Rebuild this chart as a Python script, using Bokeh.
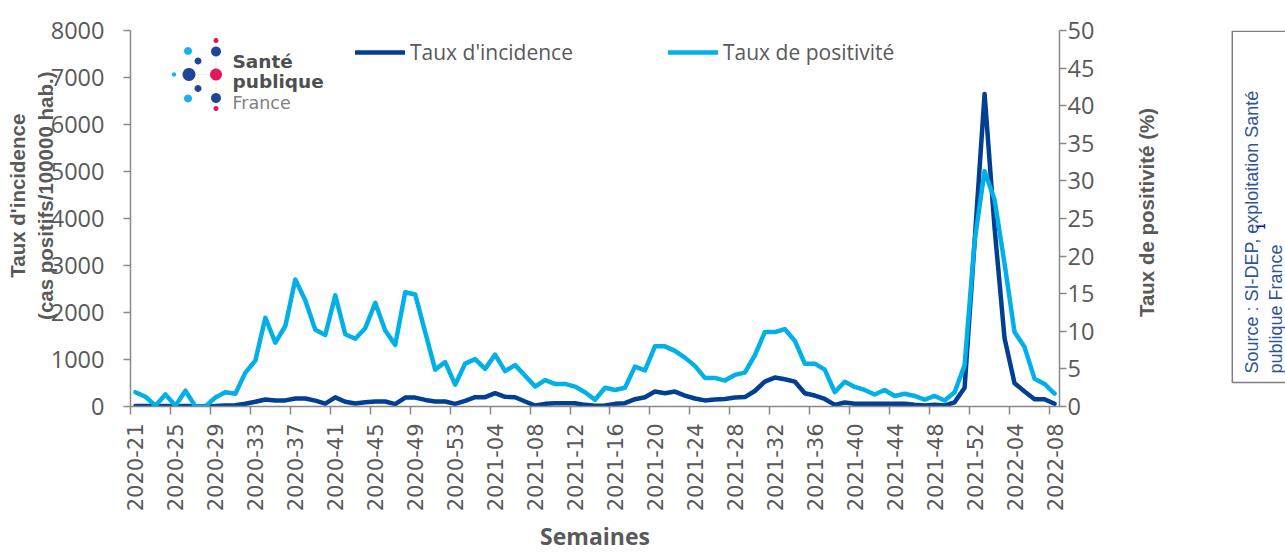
import math
from bokeh.plotting import figure
from bokeh.layouts import row
from bokeh.models import (ColumnDataSource, Range1d, LinearAxis, FixedTicker, Label,
                          Legend, LegendItem, PolyAnnotation)
from bokeh.core.properties import value
from bokeh.embed import file_html
from bokeh.resources import INLINE

# ---------------- data ----------------
weeks = ([f"2020-{w:02d}" for w in range(21, 54)]
         + [f"2021-{w:02d}" for w in range(1, 53)]
         + [f"2022-{w:02d}" for w in range(1, 9)])

incidence = [10, 10, 5, 10, 5, 10, 5, 5, 10, 20,
             25, 60, 100, 150, 130, 130, 170, 170, 125, 60,
             195, 100, 65, 90, 106, 106, 50, 190, 190, 140,
             106, 106, 56, 120, 198, 198, 283, 205, 198, 106,
             21, 56, 71, 71, 71, 35, 14, 21, 56, 71,
             155, 198, 318, 283, 318, 233, 170, 130, 150, 160,
             190, 200, 330, 530, 615, 580, 530, 283, 233, 160,
             35, 85, 57, 57, 57, 57, 57, 57, 35, 21,
             35, 21, 90, 400, 3500, 6650, 3800, 1450, 495, 318,
             155, 155, 57]

positivite = [1.9, 1.3, 0.1, 1.6, 0.1, 2.1, 0.0, 0.0, 1.2, 1.9,
              1.7, 4.5, 6.1, 11.8, 8.5, 10.7, 16.9, 14.1, 10.2, 9.5,
              14.8, 9.6, 9.0, 10.4, 13.8, 10.1, 8.2, 15.2, 14.9, 9.9,
              4.9, 5.9, 2.9, 5.7, 6.3, 5.0, 6.9, 4.7, 5.5, 4.1,
              2.65, 3.5, 3.0, 3.0, 2.65, 1.9, 0.9, 2.5, 2.2, 2.5,
              5.3, 4.8, 8.0, 8.0, 7.4, 6.5, 5.4, 3.8, 3.8, 3.45,
              4.2, 4.5, 6.8, 9.9, 9.9, 10.3, 8.75, 5.7, 5.7, 4.9,
              1.9, 3.3, 2.6, 2.2, 1.6, 2.2, 1.4, 1.7, 1.4, 0.9,
              1.4, 0.8, 1.9, 5.5, 22.0, 31.3, 27.5, 19.0, 9.9, 7.9,
              3.7, 3.0, 1.7]

left_ticks = [0, 1000, 2000, 3000, 4000, 5000, 6000, 7000, 8000]
right_ticks = [0, 5, 10, 15, 20, 25, 30, 35, 40, 45, 50]
label_step = 4

# ---------------- style ----------------
DARK = "#003F91"
LIGHT = "#00B0E6"
GREY_TXT = "#595959"
AXIS_GREY = "#898989"
NB = "\u00a0"

# frame placement on page: x 130..1059, y 30..406
FR_L, FR_R, FR_T, FR_B = 130, 1059, 30, 406
MAIN_W = 1102
H = 555


def sx(X):
    return X - FR_L


def sy(Y):
    return FR_B - Y


xs = list(range(len(weeks)))
src = ColumnDataSource(dict(x=xs, inc=incidence, pos=positivite, week=weeks))

p = figure(width=MAIN_W, height=H, output_backend="svg", toolbar_location=None,
           x_range=Range1d(-0.5, len(weeks) - 0.5), y_range=Range1d(0, 8000),
           min_border_left=FR_L, min_border_right=MAIN_W - FR_R, min_border_top=FR_T,
           min_border_bottom=H - FR_B)
p.extra_y_ranges = {"pos": Range1d(0, 50)}
p.outline_line_color = None
p.xgrid.grid_line_color = None
p.ygrid.grid_line_color = None

r1 = p.line("x", "inc", source=src, line_color=DARK, line_width=4.5,
            line_join="round", line_cap="round")
r2 = p.line("x", "pos", source=src, y_range_name="pos", line_color=LIGHT,
            line_width=4.5, line_join="round", line_cap="round")

# x axis
major = list(range(0, len(weeks), label_step))
xax = p.xaxis[0]
xax.ticker = FixedTicker(ticks=major, minor_ticks=[m - 0.5 for m in major])
xax.major_label_overrides = {m: weeks[m] for m in major}
xax.major_label_orientation = math.pi / 2
xax.major_tick_line_color = None
xax.major_tick_out = 0
xax.major_tick_in = 0
xax.minor_tick_line_color = AXIS_GREY
xax.minor_tick_line_width = 1.5
xax.minor_tick_out = 8
xax.minor_tick_in = 0
xax.major_label_standoff = 9
xax.major_label_text_font = "DejaVu Sans"
xax.major_label_text_font_size = "21px"
xax.major_label_text_color = GREY_TXT
xax.axis_line_color = AXIS_GREY
xax.axis_line_width = 1.5
xax.axis_label = "Semaines"
xax.axis_label_standoff = 6
xax.axis_label_text_font = "Open Sans"
xax.axis_label_text_font_style = "bold"
xax.axis_label_text_font_size = "23px"
xax.axis_label_text_color = GREY_TXT

TITLE_FONT = dict(axis_label_text_font="Liberation Sans",
                  axis_label_text_font_style="bold",
                  axis_label_text_font_size="20.5px",
                  axis_label_text_color=GREY_TXT)

# left y axis
yax = p.yaxis[0]
yax.ticker = FixedTicker(ticks=left_ticks)
yax.minor_tick_line_color = None
yax.major_tick_out = 7
yax.major_tick_in = 0
yax.major_tick_line_color = AXIS_GREY
yax.major_tick_line_width = 1.5
yax.axis_line_color = AXIS_GREY
yax.axis_line_width = 1.5
yax.major_label_standoff = 19
yax.major_label_text_font = "Open Sans"
yax.major_label_text_font_size = "23.5px"
yax.major_label_text_color = GREY_TXT
yax.axis_label = NB * 8 + "(cas positifs/100000 hab.)"
yax.axis_label_standoff = -9
for k, v in TITLE_FONT.items():
    setattr(yax, k, v)

# outer left axis carrying only the first title line
lax = LinearAxis(ticker=FixedTicker(ticks=[]), axis_line_color=None,
                 major_tick_line_color=None, minor_tick_line_color=None,
                 major_label_text_font_size="0px", major_tick_out=0,
                 major_label_standoff=0, axis_label=NB * 8 + "Taux d'incidence",
                 axis_label_standoff=2, **TITLE_FONT)
p.add_layout(lax, "left")

# right y axis
rax = LinearAxis(y_range_name="pos", ticker=FixedTicker(ticks=right_ticks))
rax.minor_tick_line_color = None
rax.major_tick_out = 7
rax.major_tick_in = 0
rax.major_tick_line_color = AXIS_GREY
rax.major_tick_line_width = 1.5
rax.axis_line_color = AXIS_GREY
rax.axis_line_width = 1.5
rax.major_label_standoff = 1
rax.major_label_text_font = "Open Sans"
rax.major_label_text_font_size = "23.5px"
rax.major_label_text_color = GREY_TXT
p.add_layout(rax, "right")

# legend
legend = Legend(items=[LegendItem(label="Taux d'incidence", renderers=[r1]),
                       LegendItem(label="Taux de positivité", renderers=[r2])],
                orientation="horizontal", location=(sx(355), sy(66)),
                glyph_width=50, glyph_height=24, label_height=24, label_width=258,
                label_standoff=5, spacing=0, padding=0, margin=0,
                border_line_color=None, background_fill_alpha=0,
                label_text_font="Open Sans", label_text_font_size="21px",
                label_text_color=GREY_TXT)
p.add_layout(legend)


def lab(X, Y, text, **kw):
    opts = dict(x=sx(X), y=sy(Y), x_units="screen", y_units="screen", text=text)
    opts.update(kw)
    p.add_layout(Label(**opts))


# logo (decoration)
PINK = "#E5175C"
LDARK = "#1E4596"
CYAN = "#18B4E9"
cx, cy = 215.5, 74
for (x2, y2) in [(215.5, 51), (215.5, 98), (188.5, 74), (197.5, 60.5), (197.5, 88)]:
    p.add_layout(PolyAnnotation(xs=[sx(cx), sx(x2)], ys=[sy(cy), sy(y2)],
                                xs_units="screen", ys_units="screen",
                                fill_alpha=0, line_color="#CFCFCF", line_width=1))
dots = [(215.5, 40, 2.5, PINK), (215.5, 51, 5, LDARK), (187.5, 50.5, 4, CYAN),
        (197.5, 60.5, 3.5, LDARK), (173.5, 74, 2.2, CYAN), (188.5, 74, 6.5, LDARK),
        (215.5, 74, 6, PINK), (197.5, 88, 3.5, LDARK), (187.5, 98, 4, CYAN),
        (215.5, 97.5, 5, LDARK), (215.5, 108, 2.5, PINK)]
for (dx, dy, r, c) in dots:
    n = 20
    pxs = [sx(dx + r * math.cos(2 * math.pi * k / n)) for k in range(n)]
    pys = [sy(dy + r * math.sin(2 * math.pi * k / n)) for k in range(n)]
    p.add_layout(PolyAnnotation(xs=pxs, ys=pys, xs_units="screen", ys_units="screen",
                                fill_color=c, fill_alpha=1, line_color=None))
lab(232, 61, "Santé", text_align="left", text_baseline="alphabetic",
    text_font="DejaVu Sans", text_font_style="bold", text_font_size="18.5px",
    text_color="#4F4F4F")
lab(232, 81, "publique", text_align="left", text_baseline="alphabetic",
    text_font="DejaVu Sans", text_font_style="bold", text_font_size="18.5px",
    text_color="#4F4F4F")
lab(232, 102, "France", text_align="left", text_baseline="alphabetic",
    text_font="DejaVu Sans", text_font_size="17.5px", text_color="#808080")

# right side panel: right-axis title and source box (page coordinates)
SRC_BLUE = "#2F5597"
p2 = figure(width=1285 - MAIN_W, height=H, output_backend="svg",
            toolbar_location=None, x_range=Range1d(MAIN_W, 1285),
            y_range=Range1d(FR_B, FR_T), min_border_left=0, min_border_right=0,
            min_border_top=FR_T, min_border_bottom=H - FR_B,
            x_axis_location=None, y_axis_location=None)
p2.xgrid.grid_line_color = None
p2.ygrid.grid_line_color = None
p2.outline_line_color = None
p2.text(x=[1146], y=[212], text=["Taux de positivité (%)"], angle=math.pi / 2,
        text_align="center", text_baseline="middle",
        text_font=value("Liberation Sans"), text_font_style="bold",
        text_font_size="20.5px", text_color=GREY_TXT)
p2.quad(left=[1231.8], right=[1300], top=[FR_T + 0.8], bottom=[382],
        fill_alpha=0, line_color="#7F7F7F", line_width=1.5)
p2.text(x=[1251, 1275], y=[373, 373],
        text=["Source : SI-DEP, exploitation Santé", "publique France"],
        angle=math.pi / 2, text_align="left", text_baseline="middle",
        text_font=value("Liberation Sans"), text_font_size="18px",
        text_color=SRC_BLUE)
p2.text(x=[1260], y=[226], text=["1"], angle=math.pi / 2, text_align="center",
        text_baseline="middle", text_font=value("Liberation Sans"),
        text_font_style="bold", text_font_size="10px", text_color="#0000FF")

layout = row(p, p2, spacing=0)
open("out.html", "w").write(file_html(layout, INLINE))
